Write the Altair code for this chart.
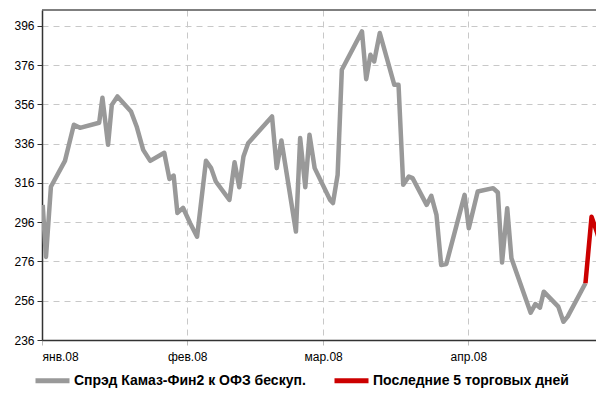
import altair as alt
import pandas as pd

# day number counted from 1 Jan 2008 (0 = 1 Jan)
gray_day = [0.15, 0.85, 1.9, 4.9, 6.8, 8.1, 12.2, 12.9, 14.1, 14.9, 16.1, 19.0, 20.2, 21.6, 23.1,
            26.1, 27.2, 28.1, 28.9, 30.1, 31.6, 33.1, 35.0, 36.1, 37.1, 40.0, 41.1, 42.1, 43.0, 44.0,
            49.1, 50.1, 51.1, 54.2, 55.1, 56.2, 57.1, 58.2, 61.5, 62.1, 63.1, 64.0, 68.3, 69.2, 70.1,
            70.9, 72.1, 75.2, 76.1, 77.1, 78.3, 79.1, 82.1, 83.1, 84.2, 85.2, 86.3, 90.2, 91.1, 93.0,
            96.3, 97.3, 98.2, 99.3, 100.2, 104.3, 105.3, 106.3, 107.1, 110.2, 111.3, 112.2, 116.0]
gray_val = [304.8, 278.3, 314.0, 327.2, 345.6, 344.0, 346.6, 359.3, 335.4, 355.7, 360.0, 352.3, 344.7,
            332.8, 327.2, 331.3, 318.0, 319.7, 300.7, 303.3, 295.6, 288.6, 327.2, 323.5, 316.7, 307.3,
            326.5, 313.8, 329.4, 336.2, 349.8, 323.5, 337.6, 291.2, 338.8, 313.8, 340.5, 323.5, 307.3,
            305.7, 320.1, 373.6, 393.1, 368.8, 381.2, 377.8, 392.3, 365.9, 365.9, 315.0, 319.2, 318.4,
            304.8, 309.4, 299.7, 274.2, 274.7, 309.9, 292.9, 311.6, 313.3, 311.1, 275.4, 303.1, 277.6,
            249.9, 254.3, 252.5, 260.6, 253.0, 245.3, 247.9, 264.9]
red_day = [116.0, 117.3, 118.5, 119.6, 120.0]
red_val = [264.9, 298.8, 290.4, 281.9, 286.1]

series = ["Спрэд Камаз-Фин2 к ОФЗ бескуп.", "Последние 5 торговых дней"]
colors = ["#999999", "#cc0000"]
month_days = [0, 31, 60, 91]
month_labels = ["янв.08", "фев.08", "мар.08", "апр.08"]
y_ticks = [236, 256, 276, 296, 316, 336, 356, 376, 396]

df = pd.concat([
    pd.DataFrame({"day": gray_day, "val": gray_val, "s": series[0]}),
    pd.DataFrame({"day": red_day, "val": red_val, "s": series[1]}),
])

FONT = "Liberation Sans, Arial, sans-serif"

label_expr = "[" + ",".join("'%s'" % m for m in month_labels) + "][indexof([" + \
    ",".join(str(d) for d in month_days) + "], datum.value)]"

lines = alt.Chart(df).mark_line(strokeWidth=4.5, strokeJoin="round", clip=True).encode(
    x=alt.X("day:Q", scale=alt.Scale(domain=[0, 118.25], nice=False),
            axis=alt.Axis(values=month_days, labelExpr=label_expr, title=None,
                          grid=True, gridDash=[6, 5], gridColor="#c8c8c8",
                          domainColor="#333333", domainWidth=1.5,
                          tickColor="#bbbbbb", tickSize=5, labelPadding=6,
                          labelFont=FONT, labelFontSize=12, labelColor="#000000")),
    y=alt.Y("val:Q", scale=alt.Scale(domain=[236, 404], nice=False, zero=False),
            axis=alt.Axis(values=y_ticks, title=None, grid=True, gridDash=[6, 5],
                          gridColor="#c8c8c8", domainColor="#333333", domainWidth=1.5,
                          tickColor="#333333", tickSize=5, labelPadding=3,
                          labelFont=FONT, labelFontSize=12, labelColor="#000000")),
    color=alt.Color("s:N", scale=alt.Scale(domain=series, range=colors), sort=series,
                    legend=alt.Legend(title=None, orient="none", direction="horizontal",
                                      legendX=-9, legendY=351, symbolType="stroke",
                                      symbolSize=1156, symbolStrokeWidth=5,
                                      labelFont=FONT, labelFontSize=14, labelFontWeight="bold",
                                      labelColor="#000000", labelOffset=2, columnPadding=18,
                                      labelLimit=400, padding=0)),
    detail="s:N",
)

top = alt.Chart(pd.DataFrame({"a": [0]})).mark_rule(color="#555555", strokeWidth=1.5).encode(
    x=alt.value(0), x2=alt.value(554), y=alt.value(0)
)

chart = alt.layer(lines, top).properties(
    width=554, height=330,
    autosize=alt.AutoSizeParams(type="none"),
    padding={"left": 34, "top": 2, "right": 0, "bottom": 48},
).configure_view(stroke=None)

chart.save("out.html", embed_options={"renderer": "svg", "actions": False})
